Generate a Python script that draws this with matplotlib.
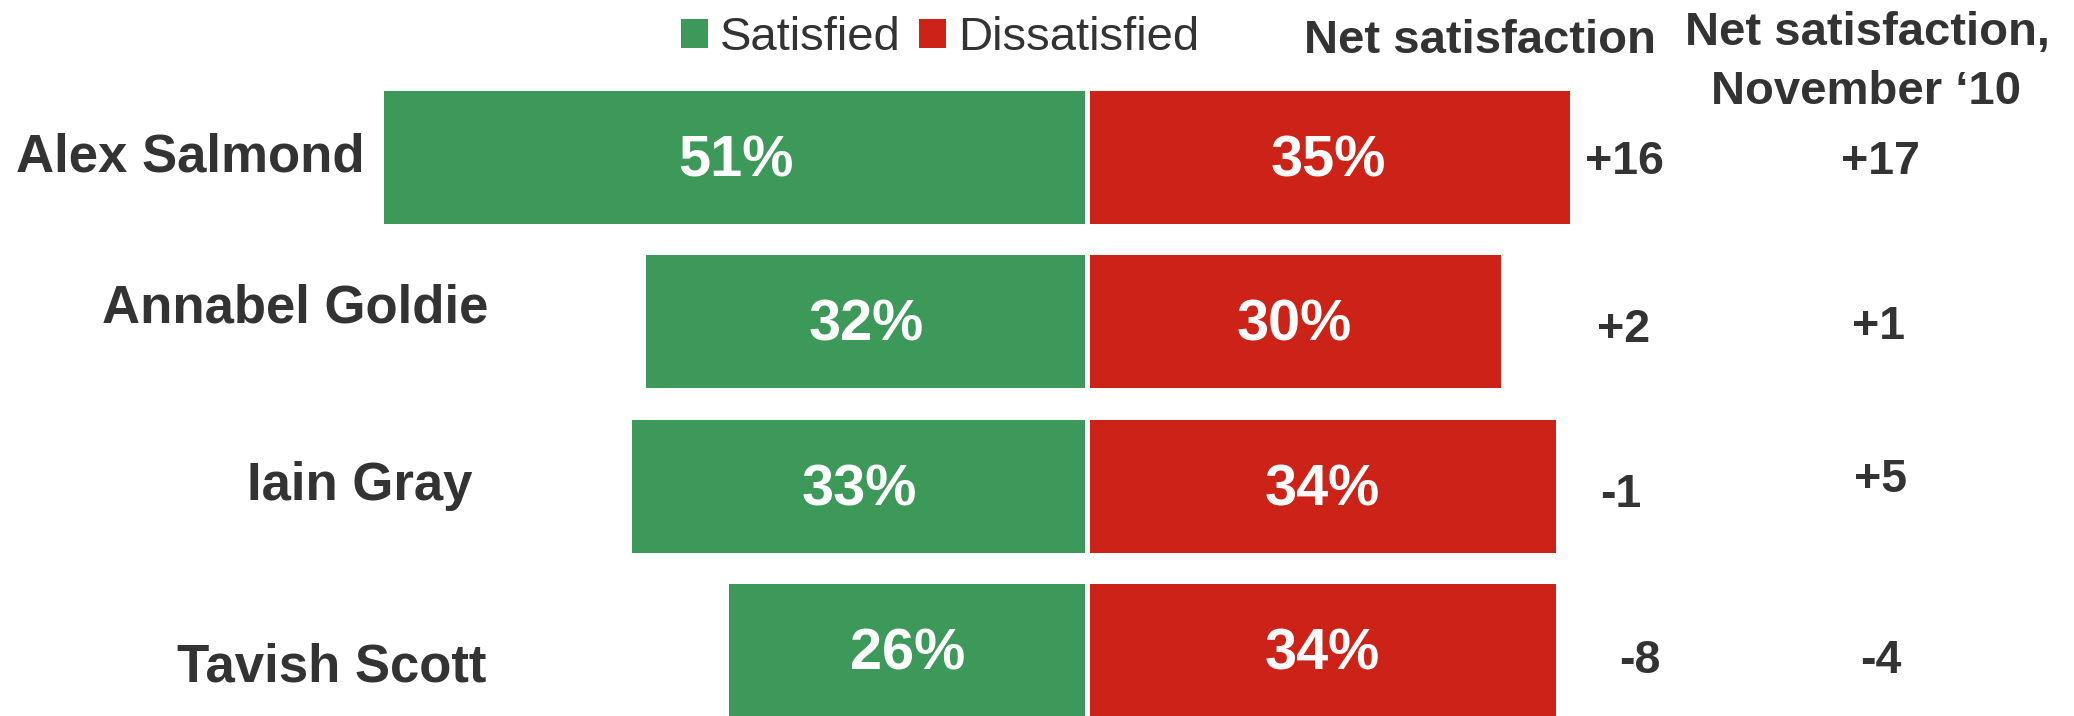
import matplotlib
matplotlib.use("Agg")
import matplotlib.pyplot as plt
import matplotlib.transforms as mtransforms

# ---- data ----
names = ["Alex Salmond", "Annabel Goldie", "Iain Gray", "Tavish Scott"]
satisfied = [51, 32, 33, 26]
dissatisfied = [35, 30, 34, 34]
net_now = ["+16", "+2", "-1", "-8"]
net_nov10 = ["+17", "+1", "+5", "-4"]
legend_labels = ["Satisfied", "Dissatisfied"]
header_net = "Net satisfaction"
header_nov = "Net satisfaction,\nNovember \u201810"

# ---- layout (pixel positions, top-left origin) ----
W, H = 2074, 716
name_pos = [(190.5, 171.5), (295, 322.8), (359.5, 500), (332, 681.5)]
net_pos = [(1624, 174), (1624, 342), (1621, 507), (1640, 673)]
nov_pos = [(1880, 174), (1878, 339), (1881, 492), (1881, 673)]

GREEN = "#3D9959"
RED = "#CC2217"
TXT = "#333333"

plt.rcParams["font.family"] = ["Liberation Sans", "DejaVu Sans"]

fig = plt.figure(figsize=(W / 100, H / 100), dpi=100)
ax = fig.add_axes([0, 0, 1, 1])
ax.axis("off")

rows = list(range(len(names)))
bh = 0.81
b1 = ax.barh(rows, [-s for s in satisfied], height=bh, color=GREEN, label=legend_labels[0])
b2 = ax.barh(rows, dissatisfied, height=bh, color=RED, label=legend_labels[1])
ax.axvline(0, color="white", lw=3.6)

ax.set_xlim(-78.81, 71.52)
ax.set_ylim(3.397, -0.957)

# percent labels inside bars
for r, s, d in zip(rows, satisfied, dissatisfied):
    ax.text(-s / 2, r + 0.115, f"{s}%", ha="center", va="baseline",
            color="white", fontsize=41.5, fontweight="bold")
    ax.text(d / 2, r + 0.115, f"{d}%", ha="center", va="baseline",
            color="white", fontsize=41.5, fontweight="bold")

# pixel transform (top-left origin)
pxt = mtransforms.Affine2D().scale(1 / W, -1 / H).translate(0, 1) + fig.transFigure

for n, (x, y) in zip(names, name_pos):
    fig.text(x, y, n, transform=pxt, ha="center", va="baseline",
             fontsize=38, fontweight="bold", color=TXT)
for v, (x, y) in zip(net_now, net_pos):
    fig.text(x, y, v, transform=pxt, ha="center", va="baseline",
             fontsize=33.5, fontweight="bold", color=TXT)
for v, (x, y) in zip(net_nov10, nov_pos):
    fig.text(x, y, v, transform=pxt, ha="center", va="baseline",
             fontsize=33.5, fontweight="bold", color=TXT)

fig.text(1480, 52.7, header_net, transform=pxt, ha="center", va="baseline",
         fontsize=34, fontweight="bold", color=TXT)
l1, l2 = header_nov.split("\n")
fig.text(1867, 45, l1, transform=pxt, ha="center", va="baseline",
         fontsize=34, fontweight="bold", color=TXT)
fig.text(1866, 104, l2, transform=pxt, ha="center", va="baseline",
         fontsize=34, fontweight="bold", color=TXT)

leg = ax.legend(handles=[b1, b2], labels=legend_labels, loc="center left",
                bbox_to_anchor=(681, 38.5), bbox_transform=pxt, ncol=2,
                frameon=False, fontsize=34, handlelength=0.57, handleheight=0.57,
                handletextpad=0.25, columnspacing=0.4, borderpad=0, borderaxespad=0)
for t in leg.get_texts():
    t.set_color(TXT)

fig.savefig("out.png", dpi=100)
